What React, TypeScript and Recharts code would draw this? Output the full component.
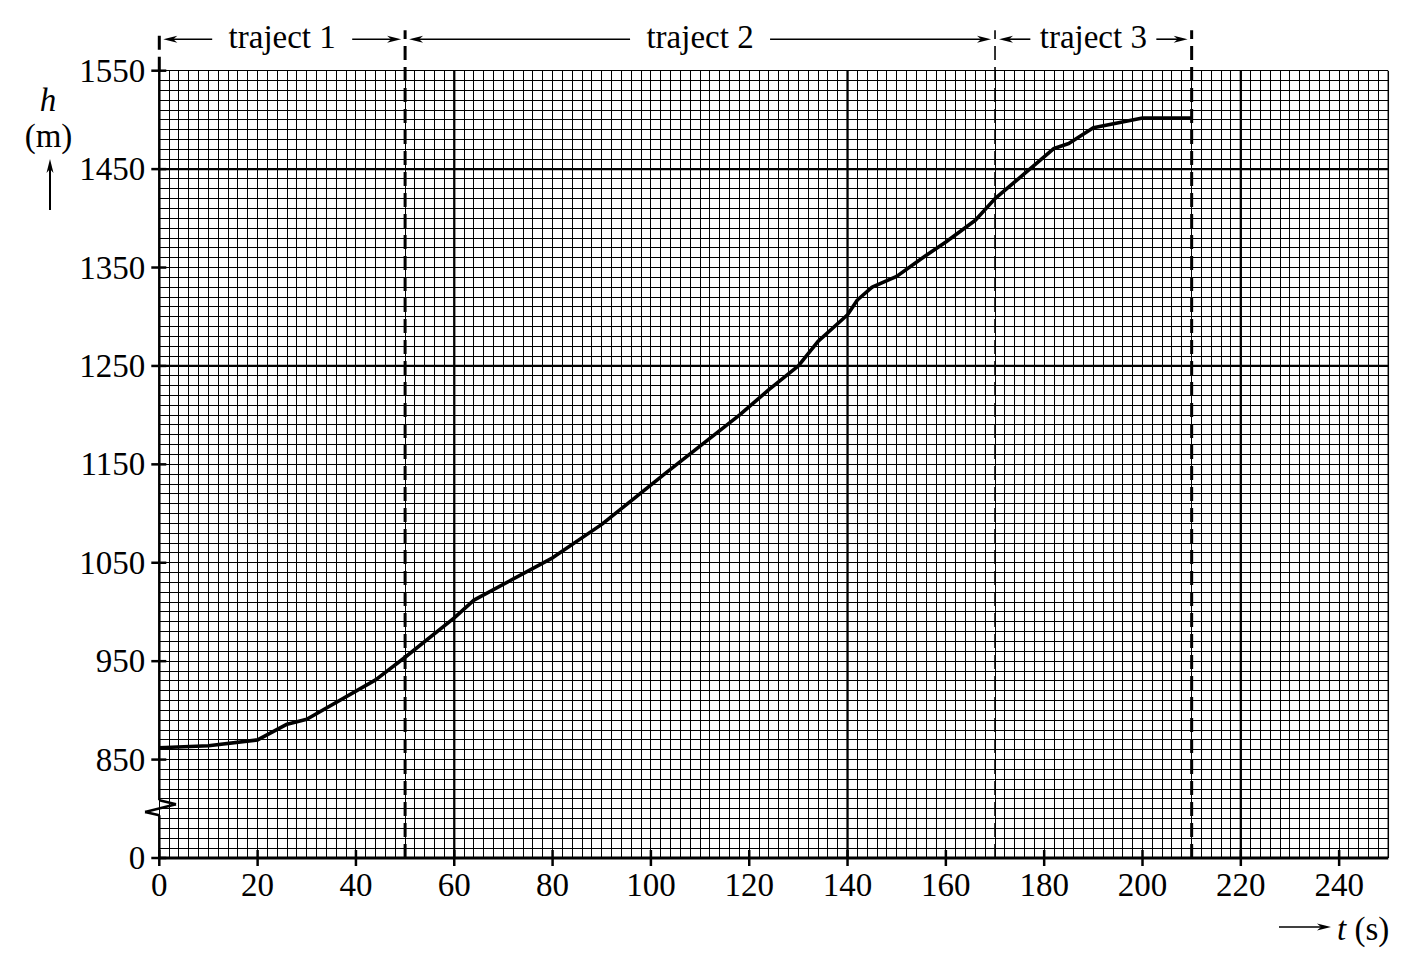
import React from 'react';
import { LineChart, Line, XAxis, YAxis, CartesianGrid, ReferenceLine } from 'recharts';

// hoogte h (m) tegen tijd t (s)
const TIME_S = [0, 10, 20, 26, 30, 44, 50, 60, 64, 80, 90, 94, 103, 118, 124, 130, 134, 140, 142, 145, 150, 155, 160, 166, 170, 182, 185, 190, 200, 210];
const HEIGHT_M = [862, 864, 870, 886, 891, 931, 954, 994, 1012, 1055, 1089, 1105, 1141, 1200, 1226, 1250, 1275, 1302, 1317, 1330, 1341, 1359, 1376, 1398, 1420, 1471, 1476, 1492, 1502, 1502];

const X_TICKS = [0, 20, 40, 60, 80, 100, 120, 140, 160, 180, 200, 220, 240];
// the axis is broken: 750 on the scale stands for 0
const Y_TICKS = [750, 850, 950, 1050, 1150, 1250, 1350, 1450, 1550];
const Y_TICK_LABELS = ['0', '850', '950', '1050', '1150', '1250', '1350', '1450', '1550'];

const TRAJECTS = [
  { label: 'traject 1', from: 0, to: 50 },
  { label: 'traject 2', from: 50, to: 170 },
  { label: 'traject 3', from: 170, to: 210 },
];

const BOLD_T = [60, 140, 220];
const BOLD_H = [1250, 1450];

// graph paper: 2 s by 10 m
const MINOR_T = Array.from({ length: 126 }, (_, i) => i * 2);
const MINOR_H = Array.from({ length: 81 }, (_, i) => 750 + i * 10);

const TOP_H = 1591;
const ARROW_H = 1582;
const FONT = '"Liberation Serif", "Times New Roman", serif';

const data = TIME_S.map((t, i) => ({ t, h: HEIGHT_M[i] }));

const XTick = ({ x, y, payload }: any) => {
  const axisY = y - 8;
  return (
    <g>
      <line x1={x} y1={axisY - 8} x2={x} y2={axisY + 8} stroke="#000" strokeWidth={2.5} />
      <text x={x} y={axisY + 38} textAnchor="middle" fontSize={33} fontFamily={FONT} fill="#000">{payload.value}</text>
    </g>
  );
};

const YTick = ({ x, y, payload }: any) => {
  const axisX = x + 14;
  const idx = Y_TICKS.indexOf(payload.value);
  return (
    <g>
      <line x1={axisX - 8} y1={y} x2={axisX + 7} y2={y} stroke="#000" strokeWidth={2.5} />
      <text x={x} y={y + 11} textAnchor="end" fontSize={33} fontFamily={FONT} fill="#000">{Y_TICK_LABELS[idx]}</text>
    </g>
  );
};

const SpanArrow = ({ x1, y1, x2, label, gap }: any) => {
  const cx = (x1 + x2) / 2;
  const a = x1 + 4;
  const b = x2 - 4;
  return (
    <g>
      <line x1={a + 8} y1={y1} x2={cx - gap} y2={y1} stroke="#000" strokeWidth={1.6} />
      <path d={`M${a},${y1} L${a + 14},${y1 - 3.5} L${a + 10},${y1} L${a + 14},${y1 + 3.5} Z`} fill="#000" />
      <line x1={cx + gap} y1={y1} x2={b - 8} y2={y1} stroke="#000" strokeWidth={1.6} />
      <path d={`M${b},${y1} L${b - 14},${y1 - 3.5} L${b - 10},${y1} L${b - 14},${y1 + 3.5} Z`} fill="#000" />
      <text x={cx} y={y1 + 9} textAnchor="middle" fontSize={33} fontFamily={FONT} fill="#000">{label}</text>
    </g>
  );
};

// left axis line with the zigzag break between 0 and 850
const AXIS_PATH = [
  { x: 0, y: 1550 },
  { x: 0, y: 808.6 },
  { x: 3.4, y: 804.6 },
  { x: -2.9, y: 796.7 },
  { x: 0, y: 793.4 },
  { x: 0, y: 750 },
];

const App: React.FC = () => {
  return (
    <div style={{ position: 'absolute', left: 0, top: 0, width: 1416, height: 970, background: '#fff' }}>
      <LineChart width={1416} height={970} data={data} margin={{ top: 70.7, right: 27.7, bottom: 52, left: 99.3 }}>
        <XAxis xAxisId="minor" type="number" dataKey="t" domain={[0, 250]} ticks={MINOR_T} interval={0} hide allowDataOverflow />
        <YAxis yAxisId="minor" type="number" domain={[750, 1550]} ticks={MINOR_H} interval={0} hide allowDataOverflow />
        <CartesianGrid xAxisId="minor" yAxisId="minor" stroke="#000" strokeWidth={1} shapeRendering="crispEdges" />

        {BOLD_T.map(t => (
          <ReferenceLine key={'bt' + t} x={t} stroke="#000" strokeWidth={2.3} />
        ))}
        {BOLD_H.map(h => (
          <ReferenceLine key={'bh' + h} y={h} stroke="#000" strokeWidth={2.2} />
        ))}
        <ReferenceLine x={250} stroke="#000" strokeWidth={1.5} />

        <ReferenceLine segment={[{ x: 0, y: 1550 }, { x: 0, y: TOP_H }]} stroke="#000" strokeWidth={3} strokeDasharray="14 7" ifOverflow="visible" />
        <ReferenceLine segment={[{ x: 50, y: 750 }, { x: 50, y: TOP_H }]} stroke="#000" strokeWidth={3} strokeDasharray="14 7" ifOverflow="visible" />
        <ReferenceLine segment={[{ x: 170, y: 750 }, { x: 170, y: TOP_H }]} stroke="#000" strokeWidth={1.6} strokeDasharray="14 7" ifOverflow="visible" />
        <ReferenceLine segment={[{ x: 210, y: 750 }, { x: 210, y: TOP_H }]} stroke="#000" strokeWidth={3} strokeDasharray="14 7" ifOverflow="visible" />

        {TRAJECTS.map((s, i) => (
          <ReferenceLine
            key={s.label}
            segment={[{ x: s.from, y: ARROW_H }, { x: s.to, y: ARROW_H }]}
            ifOverflow="visible"
            shape={(p: any) => <SpanArrow {...p} label={s.label} gap={i === 2 ? 63 : 70} />}
          />
        ))}

        {AXIS_PATH.slice(1).map((p, i) => (
          <ReferenceLine key={'ax' + i} segment={[AXIS_PATH[i], p]} stroke="#000" strokeWidth={2.5} ifOverflow="visible" />
        ))}

        <XAxis
          type="number"
          dataKey="t"
          domain={[0, 250]}
          ticks={X_TICKS}
          interval={0}
          height={60}
          axisLine={{ stroke: '#000', strokeWidth: 3 }}
          tickLine={false}
          tickSize={8}
          tickMargin={0}
          tick={<XTick />}
          allowDataOverflow
        />
        <YAxis
          type="number"
          domain={[750, 1550]}
          ticks={Y_TICKS}
          interval={0}
          width={60}
          axisLine={false}
          tickLine={false}
          tickSize={8}
          tickMargin={6}
          tick={<YTick />}
          allowDataOverflow
        />

        <Line dataKey="h" type="linear" stroke="#000" strokeWidth={3.6} strokeLinejoin="round" dot={false} activeDot={false} isAnimationActive={false} />
      </LineChart>

      <svg width={1416} height={970} style={{ position: 'absolute', left: 0, top: 0, pointerEvents: 'none' }}>
        <g fontFamily={FONT} fontSize={33} fill="#000">
          <text x={48} y={111} textAnchor="middle" fontStyle="italic">h</text>
          <text x={48.5} y={147} textAnchor="middle">(m)</text>
          <line x1={50} y1={210} x2={50} y2={168} stroke="#000" strokeWidth={2} />
          <path d="M50,159 L46.5,173 L50,169 L53.5,173 Z" fill="#000" />

          <line x1={1279} y1={927} x2={1322} y2={927} stroke="#000" strokeWidth={1.6} />
          <path d="M1331,927 L1317,923.5 L1321,927 L1317,930.5 Z" fill="#000" />
          <text x={1337} y={940}>
            <tspan fontStyle="italic">t</tspan> (s)
          </text>
        </g>
      </svg>
    </div>
  );
};

export default App;
